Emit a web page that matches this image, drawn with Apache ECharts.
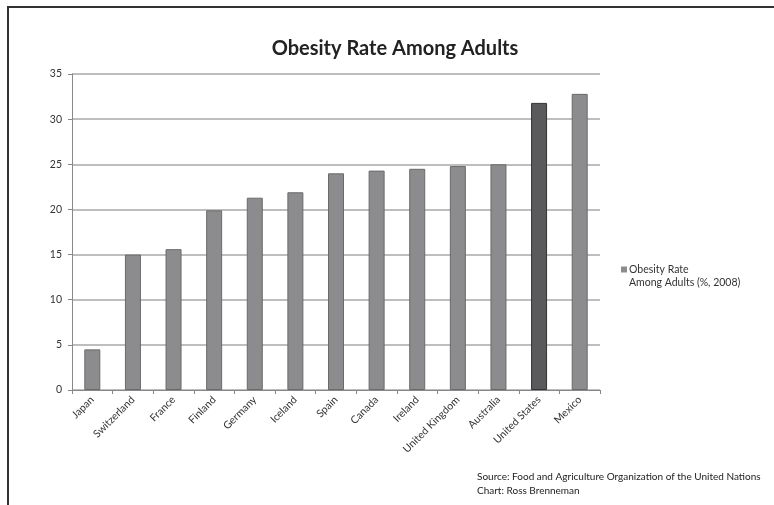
<!DOCTYPE html>
<html>
<head>
<meta charset="utf-8">
<script src="https://cdn.jsdelivr.net/npm/echarts@6/dist/echarts.min.js"></script>
<style>
  html, body { margin: 0; padding: 0; background: #fff; }
  #chart { width: 774px; height: 505px; }
</style>
</head>
<body>
<div id="chart"></div>
<script>
// 国家 / 数值
const countries = ["Japan", "Switzerland", "France", "Finland", "Germany", "Iceland", "Spain",
  "Canada", "Ireland", "United Kingdom", "Australia", "United States", "Mexico"];
const obesityRate = [4.5, 15.0, 15.6, 19.9, 21.3, 21.9, 24.0, 24.3, 24.5, 24.8, 25.0, 31.8, 32.8];
const highlight = "United States";
const seriesName = "Obesity Rate Among Adults (%, 2008)";
const yTicks = [0, 5, 10, 15, 20, 25, 30, 35];

const font = "Lato, 'Open Sans', sans-serif";
const myChart = echarts.init(document.getElementById("chart"));

myChart.setOption({
  animation: false,
  backgroundColor: "#fff",
  title: {
    text: "Obesity Rate Among Adults",
    left: 390,
    top: 34,
    textAlign: "center",
    textStyle: { fontFamily: font, fontSize: 20, fontWeight: "bold", color: "#222" },
  },
  legend: {
    left: 616,
    top: 259,
    icon: "rect",
    itemWidth: 6,
    itemHeight: 6,
    itemGap: 4,
    data: [seriesName],
    // 第二行用 graphic 画，让方块对齐第一行
    formatter: () => "Obesity Rate",
    textStyle: { fontFamily: font, fontSize: 10.5, color: "#333", padding: [0, 0, 0, -3] },
  },
  grid: { left: 72, top: 74, right: 174, bottom: 115 },
  xAxis: {
    type: "category",
    data: countries,
    axisLine: { lineStyle: { color: "#888" } },
    axisTick: { show: true, length: 4, lineStyle: { color: "#888" } },
    axisLabel: {
      interval: 0,
      rotate: 45,
      margin: 8,
      fontFamily: font,
      fontSize: 10.5,
      color: "#333",
    },
  },
  yAxis: {
    type: "value",
    min: 0,
    max: 35,
    interval: 5,
    axisLine: { show: true, lineStyle: { color: "#888" } },
    axisTick: { show: true, length: 4, lineStyle: { color: "#888" } },
    axisLabel: { fontFamily: font, fontSize: 10.5, color: "#333", margin: 10,
      formatter: (v) => (yTicks.includes(v) ? String(v) : "") },
    splitLine: { show: true, lineStyle: { color: "#a8a8a8", width: 1.5 } },
  },
  series: [
    {
      name: seriesName,
      type: "bar",
      barWidth: 16,
      data: obesityRate.map((v, i) => ({
        value: v,
        itemStyle: countries[i] === highlight
          ? { color: "#5a5a5c", borderColor: "#333", borderWidth: 1 }
          : { color: "#8c8c8e", borderColor: "#6a6a6a", borderWidth: 1 },
      })),
      itemStyle: { color: "#8c8c8e" },
    },
  ],
  graphic: [
    {
      type: "rect",
      shape: { x: 8, y: 7, width: 800, height: 600 },
      style: { fill: "none", stroke: "#333", lineWidth: 2 },
      silent: true,
    },
    {
      type: "text",
      left: 629,
      top: 277,
      style: { text: "Among Adults (%, 2008)", font: "10.5px " + font, fill: "#333" },
    },
    {
      type: "text",
      left: 477,
      top: 470,
      style: {
        text: "Source: Food and Agriculture Organization of the United Nations\nChart: Ross Brenneman",
        font: "10px " + font,
        fill: "#222",
        lineHeight: 14,
      },
    },
  ],
});
</script>
</body>
</html>
